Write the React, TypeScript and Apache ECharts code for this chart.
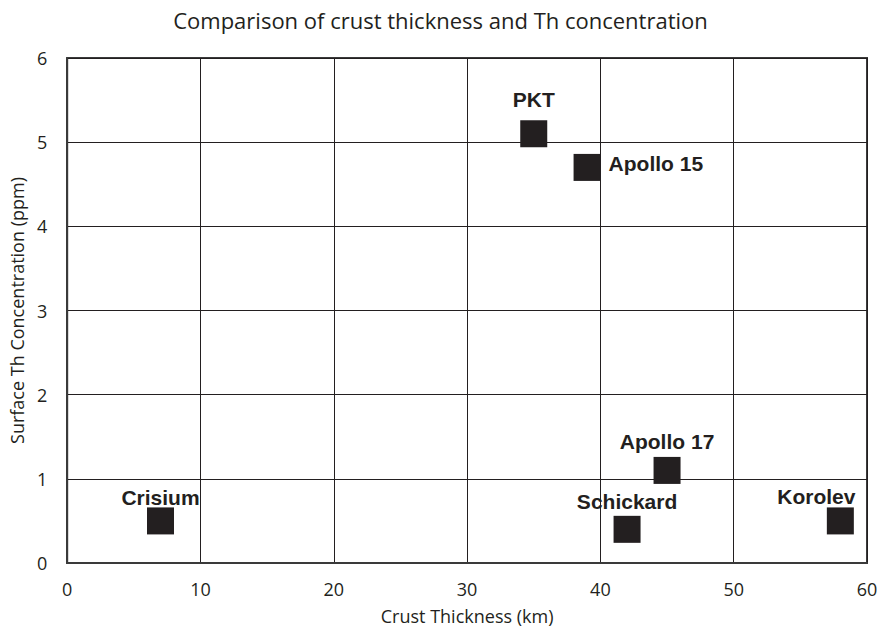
import React, { useEffect, useRef } from "react";
import * as echarts from "echarts";

const siteNames = ["Crisium", "Schickard", "Apollo 17", "Korolev", "PKT", "Apollo 15"];
const crustThickness = [7, 42, 45, 58, 35, 39];
const thConcentration = [0.5, 0.4, 1.1, 0.5, 5.1, 4.7];
const xTicks = [0, 10, 20, 30, 40, 50, 60];
const yTicks = [0, 1, 2, 3, 4, 5, 6];

export default function App() {
  const ref = useRef<HTMLDivElement>(null);
  useEffect(() => {
    if (!ref.current) return;
    const chart = echarts.init(ref.current, undefined, { renderer: "svg" });
    const labelBase = {
      show: true,
      fontFamily: "Liberation Sans, Arial, sans-serif",
      fontWeight: "bold" as const,
      fontSize: 21,
      color: "#231f20",
      formatter: (p: any) => p.name,
    };
    const labelPlacement: Record<string, any> = {
      "Crisium": { position: "top", distance: -1 },
      "Schickard": { position: "top", distance: 4 },
      "Apollo 17": { position: "top", distance: 5 },
      "Korolev": { position: "top", distance: 0, offset: [-24, 0] },
      "PKT": { position: "top", distance: 10 },
      "Apollo 15": { position: "right", distance: 8, offset: [0, -4] },
    };
    const data = siteNames.map((n, i) => ({
      name: n,
      value: [crustThickness[i], thConcentration[i]],
      label: labelPlacement[n],
    }));
    chart.setOption({
      animation: false,
      backgroundColor: "#ffffff",
      title: {
        text: "Comparison of crust thickness and Th concentration",
        left: "center",
        top: 4,
        textStyle: { fontFamily: "Open Sans", fontWeight: "normal", fontSize: 22, color: "#231f20" },
      },
      grid: { left: 67, right: 14, top: 58, bottom: 67, show: true, borderColor: "#3a3a3a", borderWidth: 2 },
      xAxis: {
        type: "value",
        min: xTicks[0],
        max: xTicks[xTicks.length - 1],
        interval: 10,
        name: "Crust Thickness (km)",
        nameLocation: "middle",
        nameGap: 44,
        nameTextStyle: { fontFamily: "Open Sans", fontSize: 18, color: "#231f20" },
        axisLine: { show: true, lineStyle: { color: "#3a3a3a", width: 2 } },
        axisTick: { show: false },
        axisLabel: { fontFamily: "Open Sans", fontSize: 18, color: "#231f20", margin: 17 },
        splitLine: { show: true, lineStyle: { color: "#231f20", width: 1 } },
      },
      yAxis: {
        type: "value",
        min: yTicks[0],
        max: yTicks[yTicks.length - 1],
        interval: 1,
        name: "Surface Th Concentration (ppm)",
        nameLocation: "middle",
        nameGap: 39,
        nameTextStyle: { fontFamily: "Open Sans", fontSize: 18, color: "#231f20" },
        axisLine: { show: true, lineStyle: { color: "#3a3a3a", width: 2 } },
        axisTick: { show: false },
        axisLabel: { fontFamily: "Open Sans", fontSize: 18, color: "#231f20", margin: 20 },
        splitLine: { show: true, lineStyle: { color: "#231f20", width: 1 } },
      },
      series: [
        {
          type: "scatter",
          symbol: "rect",
          symbolSize: 27,
          itemStyle: { color: "#231f20", opacity: 1 },
          label: labelBase,
          data,
        },
      ],
    });
    return () => chart.dispose();
  }, []);
  return <div ref={ref} style={{ width: 881, height: 630, position: "absolute", left: 0, top: 0 }} />;
}
